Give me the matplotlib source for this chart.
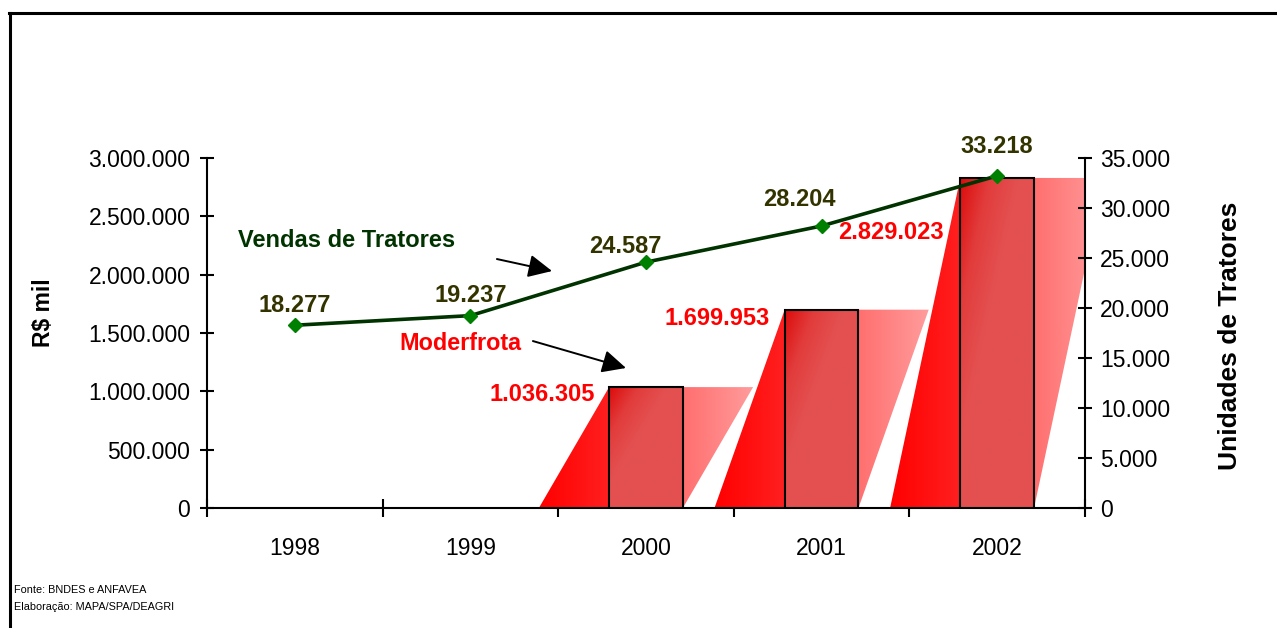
import numpy as np
import matplotlib
matplotlib.use("Agg")
import matplotlib.pyplot as plt
from matplotlib.patches import Polygon, Rectangle
from matplotlib.colors import LinearSegmentedColormap
from matplotlib.lines import Line2D
from matplotlib.ticker import FuncFormatter, FixedLocator

plt.rcParams['font.family'] = ['Liberation Sans', 'DejaVu Sans']

# data
years = ['1998', '1999', '2000', '2001', '2002']
tratores = [18277, 19237, 24587, 28204, 33218]          # unidades (eixo direito)
bar_years = ['2000', '2001', '2002']
moderfrota = [1036305, 1699953, 2829023]                  # R$ mil (eixo esquerdo)

# label offsets in pixels (dx, dy) relative to the point
line_lbl_off = [(0, 20), (0, 20), (-21, 16), (-22, 26), (0, 29)]
bar_lbl_off = [(-14, -7), (-15, -9), (-17, -55)]

def fmt(v, pos=None):
    return f"{int(v):,}".replace(',', '.')

def px2pt(p):
    return p * 72 / 100

fig = plt.figure(figsize=(12.77, 6.28), dpi=100)
ax = fig.add_axes([207/1277, 1 - 508/628, (1085-207)/1277, (508-158)/628])
ax2 = ax.twinx()

bw = 0.42
shift = 0.40
x_bar = [years.index(y) for y in bar_years]

# slanted gradient "shadow" behind the bars, then the bars themselves
red_pink = LinearSegmentedColormap.from_list('rp', ['#ff0000', '#ff2020', '#ff6e6e', '#ff9c9c'])
bar_cmap = LinearSegmentedColormap.from_list('bc', ['#dc0c0c', '#e23c3c', '#e45050', '#e45050'])
grad_h = np.linspace(0, 1, 256).reshape(1, -1)
gx, gy = np.meshgrid(np.linspace(0, 1, 80), np.linspace(1, 0, 80))
grad_d = np.clip((gx + (1 - gy)) / 1.2, 0, 1)

bars = ax.bar(x_bar, moderfrota, width=bw, facecolor='none', edgecolor='black',
              linewidth=1.5, zorder=4)

for xi, h in zip(x_bar, moderfrota):
    x0 = xi - bw / 2 - shift
    x1 = xi + bw / 2 + shift
    verts = [(x0, 0), (xi + bw / 2, 0), (x1, h), (xi - bw / 2, h)]
    poly = Polygon(verts, closed=True, facecolor='none', edgecolor='none')
    ax.add_patch(poly)
    im = ax.imshow(grad_h, cmap=red_pink, extent=[x0, x1, 0, h], aspect='auto',
                   zorder=2, interpolation='bilinear')
    im.set_clip_path(poly)

    rect = Rectangle((xi - bw / 2, 0), bw, h, facecolor='none', edgecolor='none')
    ax.add_patch(rect)
    im2 = ax.imshow(grad_d, cmap=bar_cmap, extent=[xi - bw / 2, xi + bw / 2, 0, h],
                    aspect='auto', zorder=3, interpolation='bilinear')
    im2.set_clip_path(rect)

for xi, h, (dx, dy) in zip(x_bar, moderfrota, bar_lbl_off):
    ax.annotate(fmt(h), xy=(xi - bw / 2, h), xytext=(px2pt(dx), px2pt(dy)),
                textcoords='offset points', ha='right', va='center',
                color='#ff0000', fontsize=17, fontweight='bold', zorder=6)

# line
xs = np.arange(len(years))
ax2.plot(xs, tratores, color='#003300', linewidth=2.6, marker='D',
         markersize=7.5, markerfacecolor='#008000', markeredgecolor='#008000', zorder=5)
for xi, v, (dx, dy) in zip(xs, tratores, line_lbl_off):
    ax2.annotate(fmt(v), xy=(xi, v), xytext=(px2pt(dx), px2pt(dy)),
                 textcoords='offset points', ha='center', va='center',
                 color='#333300', fontsize=17, fontweight='bold')

# annotations
arrow = dict(arrowstyle='-|>,head_length=1.45,head_width=0.7', color='black',
             lw=1.4, shrinkA=0, shrinkB=0)
ax.text(-0.323, 2297000, 'Vendas de Tratores', color='#003300', fontsize=17,
        fontweight='bold', ha='left', va='center')
ax.annotate('', xy=(1.465, 2031000), xytext=(1.151, 2134000), arrowprops=arrow)
ax.text(0.593, 1414000, 'Moderfrota', color='#ff0000', fontsize=16.8,
        fontweight='bold', ha='left', va='center')
ax.annotate('', xy=(1.886, 1200000), xytext=(1.356, 1431000), arrowprops=arrow)

# axes
ax.set_xlim(-0.5, len(years) - 0.5)
ax.set_ylim(0, 3000000)
ax2.set_ylim(0, 35000)
ax.set_yticks(np.arange(0, 3000001, 500000))
ax2.set_yticks(np.arange(0, 35001, 5000))
ax.yaxis.set_major_formatter(FuncFormatter(fmt))
ax2.yaxis.set_major_formatter(FuncFormatter(fmt))

ax.xaxis.set_major_locator(FixedLocator(np.arange(-0.5, len(years), 1.0)))
ax.xaxis.set_major_formatter(FuncFormatter(lambda v, p: ''))
ax.xaxis.set_minor_locator(FixedLocator(xs))
ax.set_xticklabels(years, minor=True)
ax.tick_params(axis='x', which='major', direction='inout', length=13, width=1.5)
ax.tick_params(axis='x', which='minor', length=0, pad=21, labelsize=16.5)
ax.tick_params(axis='y', direction='inout', length=10, width=1.5, pad=7, labelsize=16.5)
ax2.tick_params(axis='y', direction='inout', length=10, width=1.5, pad=6, labelsize=16.5)

for a in (ax, ax2):
    a.spines['top'].set_visible(False)
    for s in ('left', 'right', 'bottom'):
        a.spines[s].set_linewidth(1.5)
ax2.spines['left'].set_visible(False)
ax2.spines['bottom'].set_visible(False)
ax.spines['right'].set_visible(False)

fig.text(43/1277, 1 - 313/628, 'R$ mil', rotation=90, ha='center', va='center',
         fontsize=16.5, fontweight='bold')
fig.text(1230/1277, 1 - 336/628, 'Unidades de Tratores', rotation=90, ha='center',
         va='center', fontsize=19, fontweight='bold')

fig.text(14/1277, 1 - 590/628, 'Fonte: BNDES e ANFAVEA', fontsize=7.8, va='center')
fig.text(14/1277, 1 - 607/628, 'Elaboração: MAPA/SPA/DEAGRI', fontsize=7.8, va='center')

# outer frame (left and top only)
fig.add_artist(Line2D([10/1277, 10/1277], [0, 1 - 12.5/628], transform=fig.transFigure,
                      color='black', lw=2.2))
fig.add_artist(Line2D([9/1277, 1], [1 - 12.5/628, 1 - 12.5/628], transform=fig.transFigure,
                      color='black', lw=2.2))

fig.savefig('out.png', dpi=100)
